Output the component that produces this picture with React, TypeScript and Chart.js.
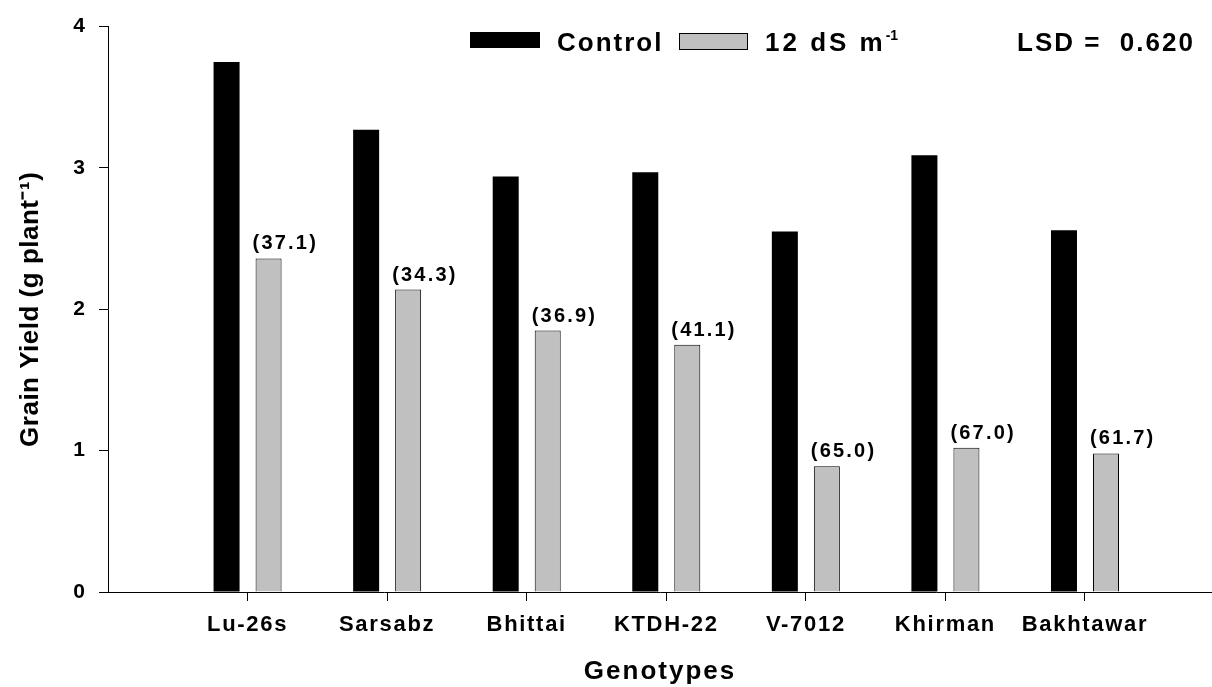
import React, { useEffect, useRef } from 'react';
import { Chart, registerables } from 'chart.js';

Chart.register(...registerables);

// ---- data ----
const genotypes = ['Lu-26s', 'Sarsabz', 'Bhittai', 'KTDH-22', 'V-7012', 'Khirman', 'Bakhtawar'];
const controlYield = [3.75, 3.27, 2.94, 2.97, 2.55, 3.09, 2.56];
const salineYield = [2.36, 2.14, 1.85, 1.75, 0.89, 1.02, 0.98];
const reductionPercent = [37.1, 34.3, 36.9, 41.1, 65.0, 67.0, 61.7];
const seriesNames = ['Control', '12 dS m'];
const seriesSuperscript = ['', '-1'];
const yTickValues = [0, 1, 2, 3, 4];
const lsdValue = 0.62;
const yTitle = 'Grain Yield (g plant\u207B\u00B9)';
const xTitle = 'Genotypes';

const FONT = "'Liberation Sans', Arial, sans-serif";

function withSpacing(scale: any, method: string, spacing: string) {
  const key = '__ls_' + method;
  if (!scale || scale[key]) return;
  const orig = scale[method];
  scale[method] = function (...args: any[]) {
    const ctx = this.ctx;
    ctx.save();
    ctx.letterSpacing = spacing;
    const r = orig.apply(this, args);
    ctx.restore();
    return r;
  };
  scale[key] = true;
}

const spacingPlugin = {
  id: 'spacingPlugin',
  beforeDraw(chart: any) {
    withSpacing(chart.scales.x, 'drawLabels', '1.7px');
    withSpacing(chart.scales.x, 'drawTitle', '2px');
    withSpacing(chart.scales.y, 'drawTitle', '0.5px');
  },
};

const annotationPlugin = {
  id: 'annotationPlugin',
  afterDatasetsDraw(chart: any) {
    const ctx = chart.ctx;
    const meta = chart.getDatasetMeta(1);
    ctx.save();
    ctx.font = `bold 20px ${FONT}`;
    ctx.letterSpacing = '2.2px';
    ctx.fillStyle = '#000';
    ctx.textAlign = 'left';
    ctx.textBaseline = 'alphabetic';
    meta.data.forEach((bar: any, i: number) => {
      const p = bar.getProps(['x', 'y', 'width'], true);
      ctx.fillText(`(${reductionPercent[i].toFixed(1)})`, p.x - p.width / 2 - 3, p.y - 9);
    });
    ctx.restore();
  },
  afterDraw(chart: any) {
    const ctx = chart.ctx;
    ctx.save();
    // legend boxes
    ctx.fillStyle = '#000';
    ctx.fillRect(470, 32, 70, 16);
    ctx.fillStyle = '#c0c0c0';
    ctx.fillRect(679, 33, 69, 17);
    ctx.strokeStyle = '#000';
    ctx.lineWidth = 1;
    ctx.strokeRect(679.5, 33.5, 68, 16);
    // legend text
    ctx.fillStyle = '#000';
    ctx.font = `bold 26px ${FONT}`;
    ctx.letterSpacing = '2px';
    ctx.textAlign = 'left';
    ctx.textBaseline = 'alphabetic';
    ctx.fillText(seriesNames[0], 557, 51);
    ctx.letterSpacing = '3px';
    ctx.fillText(seriesNames[1], 765, 51);
    const w = ctx.measureText(seriesNames[1]).width;
    ctx.font = `bold 14px ${FONT}`;
    ctx.letterSpacing = '0px';
    ctx.fillText(seriesSuperscript[1], 765 + w, 40);
    // LSD
    ctx.font = `bold 26px ${FONT}`;
    ctx.letterSpacing = '2px';
    ctx.fillText(`LSD =  ${lsdValue.toFixed(3)}`, 1017, 51);
    ctx.restore();
  },
};

export default function App() {
  const ref = useRef<HTMLCanvasElement>(null);
  useEffect(() => {
    Chart.defaults.color = '#000';
    const chart = new Chart(ref.current as HTMLCanvasElement, {
      type: 'bar',
      data: {
        datasets: [
          {
            label: seriesNames[0],
            data: genotypes.map((_, i) => ({ x: i + 1, y: controlYield[i] })),
            backgroundColor: '#000',
            borderColor: '#000',
            borderWidth: 0,
            categoryPercentage: 0.602,
            barPercentage: 0.619,
          },
          {
            label: seriesNames[1],
            data: genotypes.map((_, i) => ({ x: i + 1, y: salineYield[i] })),
            backgroundColor: '#c0c0c0',
            borderColor: '#000',
            borderWidth: 1,
            categoryPercentage: 0.602,
            barPercentage: 0.619,
          },
        ],
      },
      options: {
        responsive: false,
        animation: false,
        layout: { padding: { top: 24, left: 0, right: 0, bottom: 0 } },
        plugins: {
          legend: { display: false },
          tooltip: { enabled: false },
        },
        scales: {
          x: {
            type: 'linear',
            offset: false,
            min: 0,
            max: 7.91,
            afterBuildTicks: (s: any) => {
              s.ticks = genotypes.map((_, i) => ({ value: i + 1 }));
            },
            afterFit: (s: any) => {
              s.height = 95;
            },
            ticks: {
              autoSkip: false,
              maxRotation: 0,
              minRotation: 0,
              padding: 11,
              color: '#000',
              font: { family: FONT, size: 22, weight: 'bold' },
              callback: (v: any) => genotypes[Number(v) - 1] ?? '',
            },
            grid: {
              display: true,
              offset: false,
              drawOnChartArea: false,
              drawTicks: true,
              tickLength: 9,
              color: '#000',
              lineWidth: 1,
            },
            border: { display: true, color: '#000', width: 1 },
            title: {
              display: true,
              text: xTitle,
              color: '#000',
              font: { family: FONT, size: 26, weight: 'bold' },
              padding: { top: 0, bottom: 0 },
            },
          },
          y: {
            type: 'linear',
            min: 0,
            max: 4,
            afterBuildTicks: (s: any) => {
              s.ticks = yTickValues.map((v) => ({ value: v }));
            },
            afterFit: (s: any) => {
              s.width = 108;
            },
            ticks: {
              padding: 14,
              color: '#000',
              font: { family: FONT, size: 21, weight: 'bold' },
            },
            grid: {
              display: true,
              drawOnChartArea: false,
              drawTicks: true,
              tickLength: 9,
              color: '#000',
              lineWidth: 1,
            },
            border: { display: true, color: '#000', width: 1 },
            title: {
              display: true,
              text: yTitle,
              color: '#000',
              font: { family: FONT, size: 26, weight: 'bold' },
              padding: { top: 15, bottom: 0 },
            },
          },
        },
      },
      plugins: [spacingPlugin, annotationPlugin],
    } as any);
    return () => chart.destroy();
  }, []);
  return (
    <canvas
      ref={ref}
      width={1212}
      height={687}
      style={{ position: 'absolute', left: 0, top: 0, width: 1212, height: 687 }}
    />
  );
}
